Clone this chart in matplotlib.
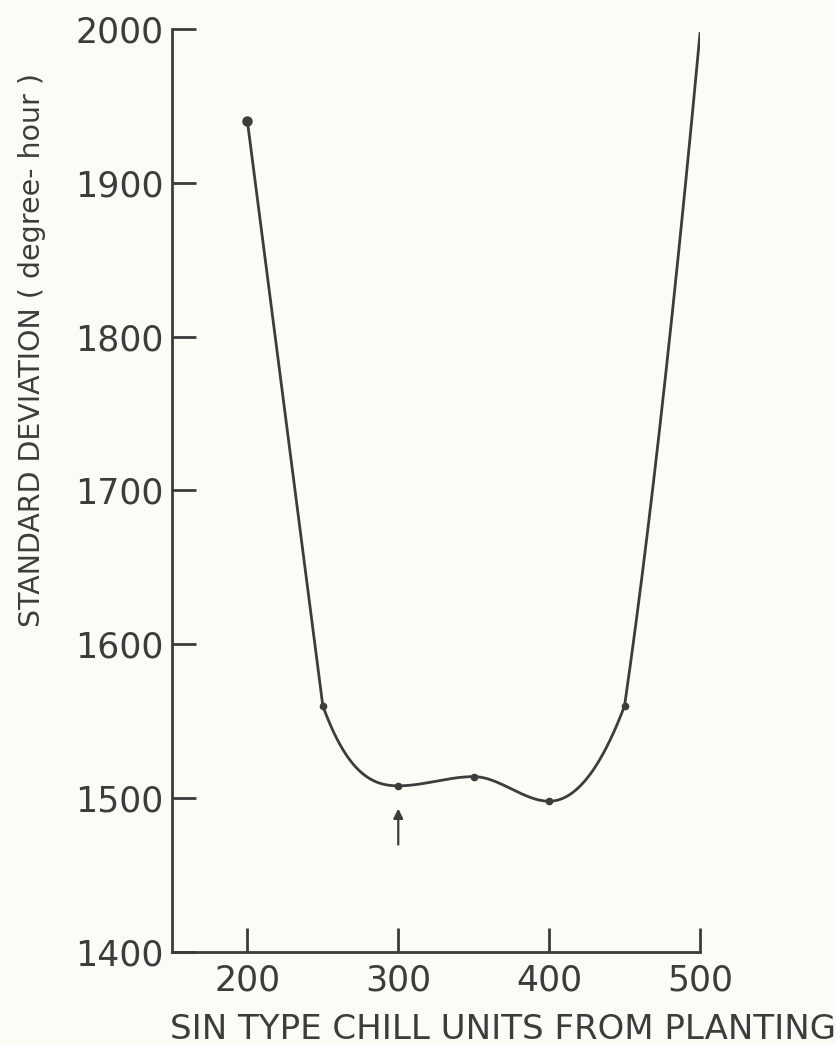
import numpy as np
import matplotlib
matplotlib.use('Agg')
import matplotlib.pyplot as plt

# values
chill_units = [200, 250, 300, 350, 400, 450, 500]
std_dev = [1940, 1560, 1508, 1514, 1498, 1560, 1997]
x_ticks = [200, 300, 400, 500]
y_ticks = [1400, 1500, 1600, 1700, 1800, 1900, 2000]
best_x = 300          # arrow marks the minimum
arrow_from = 1468
arrow_to = 1495

# the curve was hand drawn: slopes leaving / entering each knot
# (kinks at 250 and 450, flat at the turning points)
slope_out = [-7.6, -2.7, 0, 0, 0, 6.8]
slope_in = [-7.6, 0, 0, 0, 2.6, 10.5]


def hermite(x, y, m0, m1, n=80):
    xs_all, ys_all = [], []
    for k in range(len(x) - 1):
        h = x[k + 1] - x[k]
        t = np.linspace(0, 1, n)
        h00 = 2 * t**3 - 3 * t**2 + 1
        h10 = t**3 - 2 * t**2 + t
        h01 = -2 * t**3 + 3 * t**2
        h11 = t**3 - t**2
        ys = h00 * y[k] + h10 * h * m0[k] + h01 * y[k + 1] + h11 * h * m1[k]
        xs_all.append(x[k] + t * h)
        ys_all.append(ys)
    return np.concatenate(xs_all), np.concatenate(ys_all)


ink = '#3c3c3c'
paper = '#fcfcf7'

fig = plt.figure(figsize=(8.36, 10.45), dpi=100, facecolor=paper)
ax = fig.add_axes([0.2057, 0.089, 0.6316, 0.8833])
ax.set_facecolor(paper)

cx, cy = hermite(chill_units, std_dev, slope_out, slope_in)
ax.plot(cx, cy, color=ink, lw=2.0)
ax.plot(chill_units[:1], std_dev[:1], 'o', color=ink, ms=6.5)
ax.plot(chill_units[1:-1], std_dev[1:-1], 'o', color=ink, ms=4.5)

ax.annotate('', xy=(best_x, arrow_to), xytext=(best_x, arrow_from),
            arrowprops=dict(arrowstyle='-|>', color=ink, lw=1.6,
                            mutation_scale=14))

ax.set_xlim(150, 500)
ax.set_ylim(1400, 2000)
ax.set_xticks(x_ticks)
ax.set_yticks(y_ticks)
ax.spines['top'].set_visible(False)
ax.spines['right'].set_visible(False)
for s in ('left', 'bottom'):
    ax.spines[s].set_color(ink)
    ax.spines[s].set_linewidth(2.0)
ax.tick_params(axis='both', direction='in', length=17, width=2.0,
               color=ink, labelcolor=ink, labelsize=25)
ax.tick_params(axis='x', pad=8)
ax.tick_params(axis='y', pad=6)

ax.set_xlabel('SIN TYPE CHILL UNITS FROM PLANTING', fontsize=24.5,
              color=ink, va='center')
ax.xaxis.set_label_coords(0.627, -0.0845)
ax.set_ylabel('STANDARD DEVIATION ( degree- hour )', fontsize=20.5,
              color=ink, va='center')
ax.yaxis.set_label_coords(-0.265, 0.652)

fig.savefig('out.png', dpi=100, facecolor=paper)
